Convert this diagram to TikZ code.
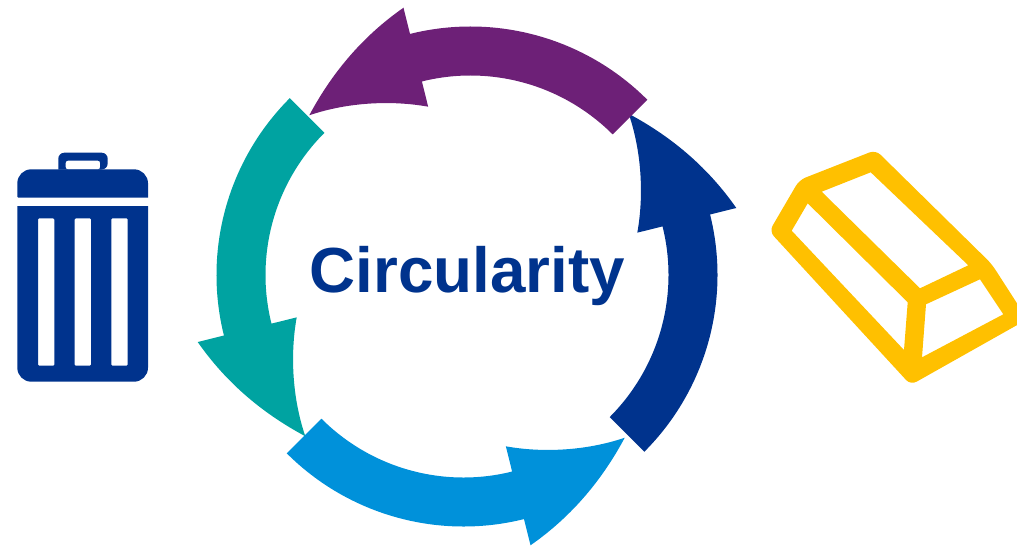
\documentclass[tikz,border=0pt]{standalone}
\usepackage{fontspec}
\setmainfont{Liberation Sans}
\usepackage{xcolor}
\usetikzlibrary{positioning, calc}
\definecolor{ringnavy}{HTML}{00338D}
\definecolor{ringpurple}{HTML}{6D2077}
\definecolor{ringteal}{HTML}{00A3A1}
\definecolor{ringblue}{HTML}{0091DA}
\definecolor{bargold}{HTML}{FFC000}
\tikzstyle{ringarrow} = [draw=none]
\tikzstyle{binpart} = [fill=ringnavy, even odd rule]
\tikzstyle{barshape} = [fill=bargold, even odd rule]
\tikzstyle{title} = [text=ringnavy, font=\fontsize{47.8}{57}\selectfont\bfseries, anchor=base, inner sep=0pt]

\begin{document}
\begin{tikzpicture}[x=0.75pt, y=-0.75pt]
        \useasboundingbox (0,0) rectangle (1017,546);

        % Ring of arrows
        \foreach \col/\a/\cx/\cy in {ringnavy/45/467.5/275, ringpurple/-45/470.5/276.5, ringteal/-135/466.5/275, ringblue/135/463.5/276.5} {
            \begin{scope}[shift={(\cx,\cy)}]
                \fill [ringarrow, fill=\col] (\a:250) arc [start angle=\a, delta angle=-59, radius=250]
                    -- (\a-59:277) .. controls (\a-68.5:264) and (\a-78.5:248) .. (\a-90:228)
                    .. controls (\a-80:213) and (\a-69:193) .. (\a-59:175)
                    -- (\a-59:201) arc [start angle=\a-59, delta angle=59, radius=201] -- cycle;
            \end{scope}
        }

        \node (label) [title] at (467.5,292) {Circularity};

        % Bin
        \fill [binpart, rounded corners=10.5pt] (17.3,197.7) [sharp corners] -- (17.3,183) [rounded corners=10.5pt] -- (17.3,169.3) -- (148,169.3) [sharp corners] -- (148,183) -- (148,197.7) [rounded corners=0.75pt] -- cycle;
        \fill [binpart] [rounded corners=4.5pt] (58.3,169.5) -- (58.3,152.7) -- (107.7,152.7) -- (107.7,169.5) [sharp corners] -- cycle
            [rounded corners=1.5pt] (65.7,160.7) -- (100,160.7) -- (100,169.3) -- (65.7,169.3) -- cycle;
        \fill [binpart] [sharp corners] (17.3,206) -- (148,206) -- (148,300) [rounded corners=10.5pt] -- (148,381.7) -- (17.3,381.7) [sharp corners] -- (17.3,300) -- cycle
            [rounded corners=0.75pt] (38,218.3) rectangle (54.3,365.7)
            (74.7,218.3) rectangle (91,365.7)
            (111.3,218.3) rectangle (127.7,365.7);

        % Gold bar
        \fill [barshape] [rounded corners=5pt] (769.3,231.3) -- (799.3,180) -- (875.7,150) -- (991.7,264) -- (1027.3,319.3) -- (910.7,385) -- cycle
            [sharp corners] (821.7,191.7) -- (870.7,172.3) -- (968.3,265.3) -- (920,288.3) -- cycle
            (807.7,203.3) -- (907.7,302.3) -- (904,350) -- (791.7,230.7) -- cycle
            (926,304.3) -- (980,279.3) -- (1003.3,314.3) -- (922,357.3) -- cycle;
    \end{tikzpicture}
\end{document}
